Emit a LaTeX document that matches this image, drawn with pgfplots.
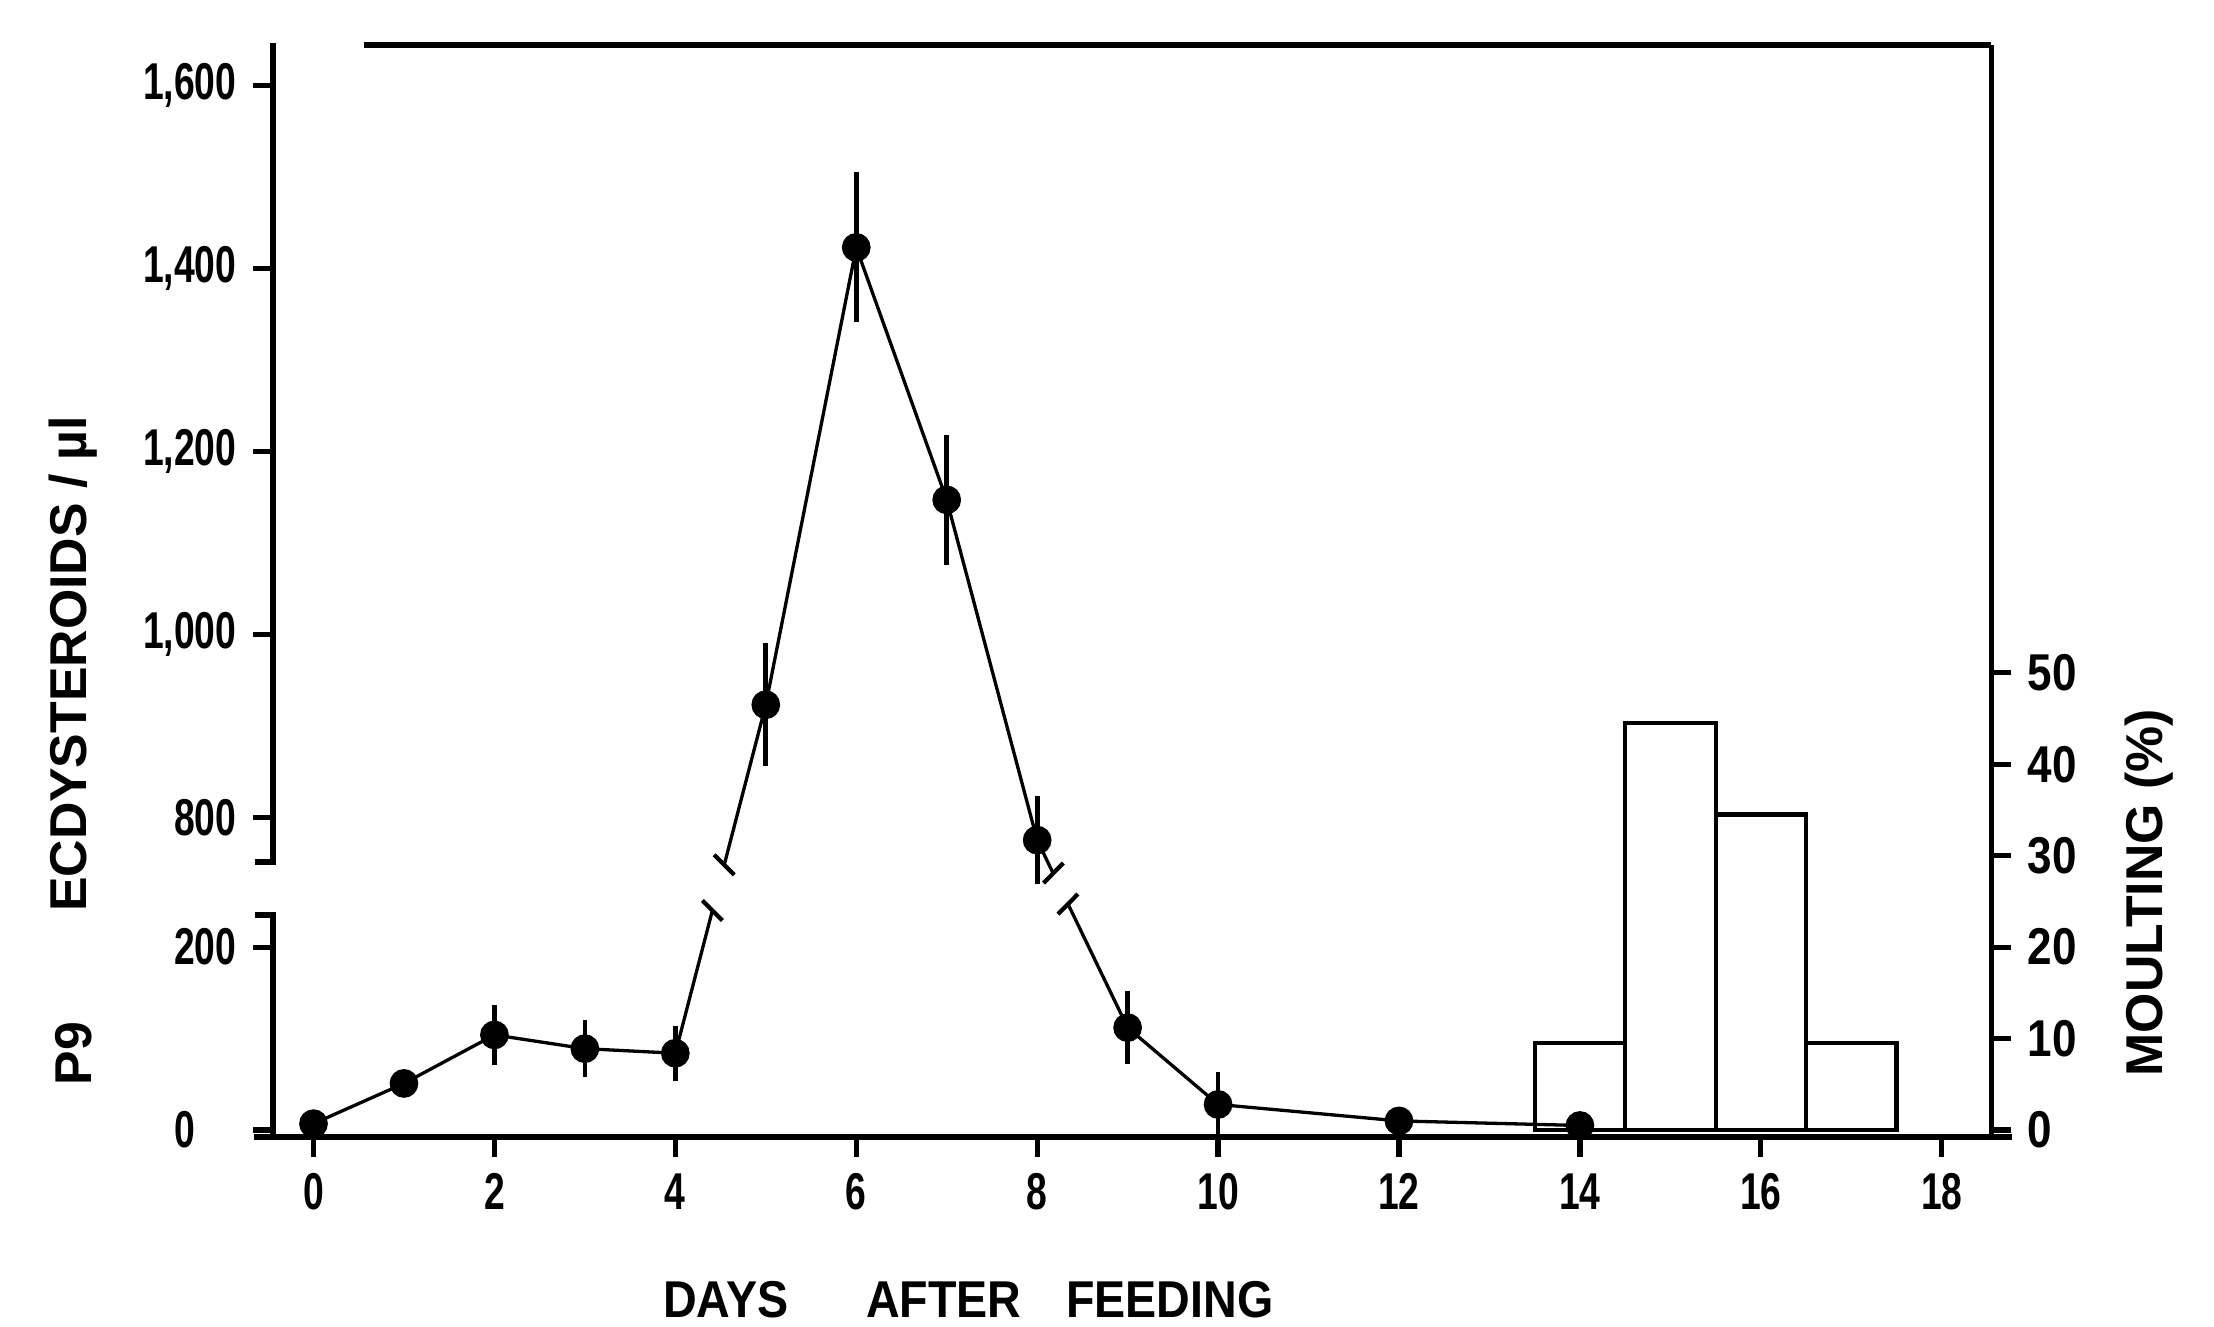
\documentclass[border=0pt]{standalone}
\usepackage{fontspec}
\setmainfont{Liberation Sans}
\newfontfamily\narrowfont{Liberation Sans}[FakeStretch=0.72]
\newfontfamily\midfont{Liberation Sans}[FakeStretch=0.85]
\newfontfamily\labfont{Liberation Sans}[FakeStretch=0.9]
\usepackage{pgfplots}
\pgfplotsset{compat=1.18}
\usepackage{pgfplotstable}

% Ecdysteroid titre (value per microlitre) with error half-widths
\pgfplotstableread{
day val err
0 7 0
1 51 0
2 104 33
3 89 31
4 84 30
5 923 67
6 1423 82
7 1147 71
8 775 48
9 112 40
10 28 36
12 10 10
14 5 0
}\ecdy

\pgfplotsset{
  common/.style={
    scale only axis, width=365pt, height=231.9pt,
    xmin=-0.45, xmax=18.55,
    clip=false,
    axis line style={draw=none},
    tick align=outside,
    major tick length=4.2pt,
    tick style={black, line width=1.1pt},
    /pgf/number format/assume math mode=true,
    ticklabel style={font=\narrowfont\bfseries\fontsize{11}{11}\selectfont},
  }
}

\begin{document}
\begin{tikzpicture}
\begin{axis}[
  common,
  ymin=-7.7, ymax=1186.1,
  axis x line*=bottom, axis y line*=left,
  xtick={0,2,...,18},
  ytick={0,200,342,542,742,942,1142},
  yticklabels={0\hphantom{00},200,800,{1,000},{1,200},{1,400},{1,600}},
  y filter/.expression={y>500 ? y-458 : y},
]
\addplot[black, line width=0.7pt, mark=*, mark size=2.7pt,
  mark options={fill=black, solid},
  error bars/.cd, y dir=both, y explicit,
  error mark=none,
  error bar style={line width=1.0pt, black}]
  table[x=day, y=val, y error=err] {\ecdy};

% gaps of the broken scale
\fill[white] (axis cs:4.25,240) rectangle (axis cs:4.75,290);
\fill[white] (axis cs:8.05,247) rectangle (axis cs:8.5,281);
\draw[line width=0.9pt] (axis cs:4.30,251) -- (axis cs:4.52,229);
\draw[line width=0.9pt] (axis cs:4.43,301) -- (axis cs:4.65,279);
\draw[line width=0.9pt] (axis cs:8.07,270) -- (axis cs:8.29,292);
\draw[line width=0.9pt] (axis cs:8.23,236) -- (axis cs:8.45,258);

% frame
\draw[line width=1.2pt] (axis cs:-0.66,-7.7) -- (axis cs:18.78,-7.7);
\draw[line width=1.2pt] (axis cs:-0.45,-7.7) -- (axis cs:-0.45,235) -- (axis cs:-0.65,235);
\draw[line width=1.2pt] (axis cs:-0.65,293) -- (axis cs:-0.45,293) -- (axis cs:-0.45,1189);
\draw[line width=1.2pt] (axis cs:0.56,1186.1) -- (axis cs:18.55,1186.1);
\draw[line width=1.2pt] (axis cs:18.55,-7.7) -- (axis cs:18.55,1186.1);

% labels
\node[inner sep=0pt, rotate=90, font=\bfseries\fontsize{11}{11}\selectfont] at (axis cs:-2.654,509.7) {ECDYSTEROIDS / µl};
\node[inner sep=0pt, rotate=90, font=\bfseries\fontsize{11}{11}\selectfont] at (axis cs:-2.654,83.4) {P9};
\node[inner sep=0pt, rotate=90, font=\bfseries\fontsize{11}{11}\selectfont] at (axis cs:20.29,259.5) {MOULTING (\%)};
\node[inner sep=0pt, font=\labfont\bfseries\fontsize{11}{11}\selectfont] at (axis cs:7.24,-185.3) {DAYS\hspace{16.5pt}AFTER\hspace{9.5pt}FEEDING};
\path (axis cs:-3.466,1235.5) rectangle (axis cs:21.01,-214.7);
\end{axis}

\begin{axis}[
  common,
  ymin=-0.77, ymax=118.61,
  axis x line=none, axis y line*=right,
  ytick={0,10,...,50},
  yticklabel style={font=\midfont\bfseries\fontsize{11}{11}\selectfont},
]
\addplot[ybar interval, draw=black, fill=none, line width=0.9pt]
  coordinates {(13.5,9.5) (14.5,44.5) (15.5,34.5) (16.5,9.5) (17.5,0)};
\end{axis}
\end{tikzpicture}
\end{document}
